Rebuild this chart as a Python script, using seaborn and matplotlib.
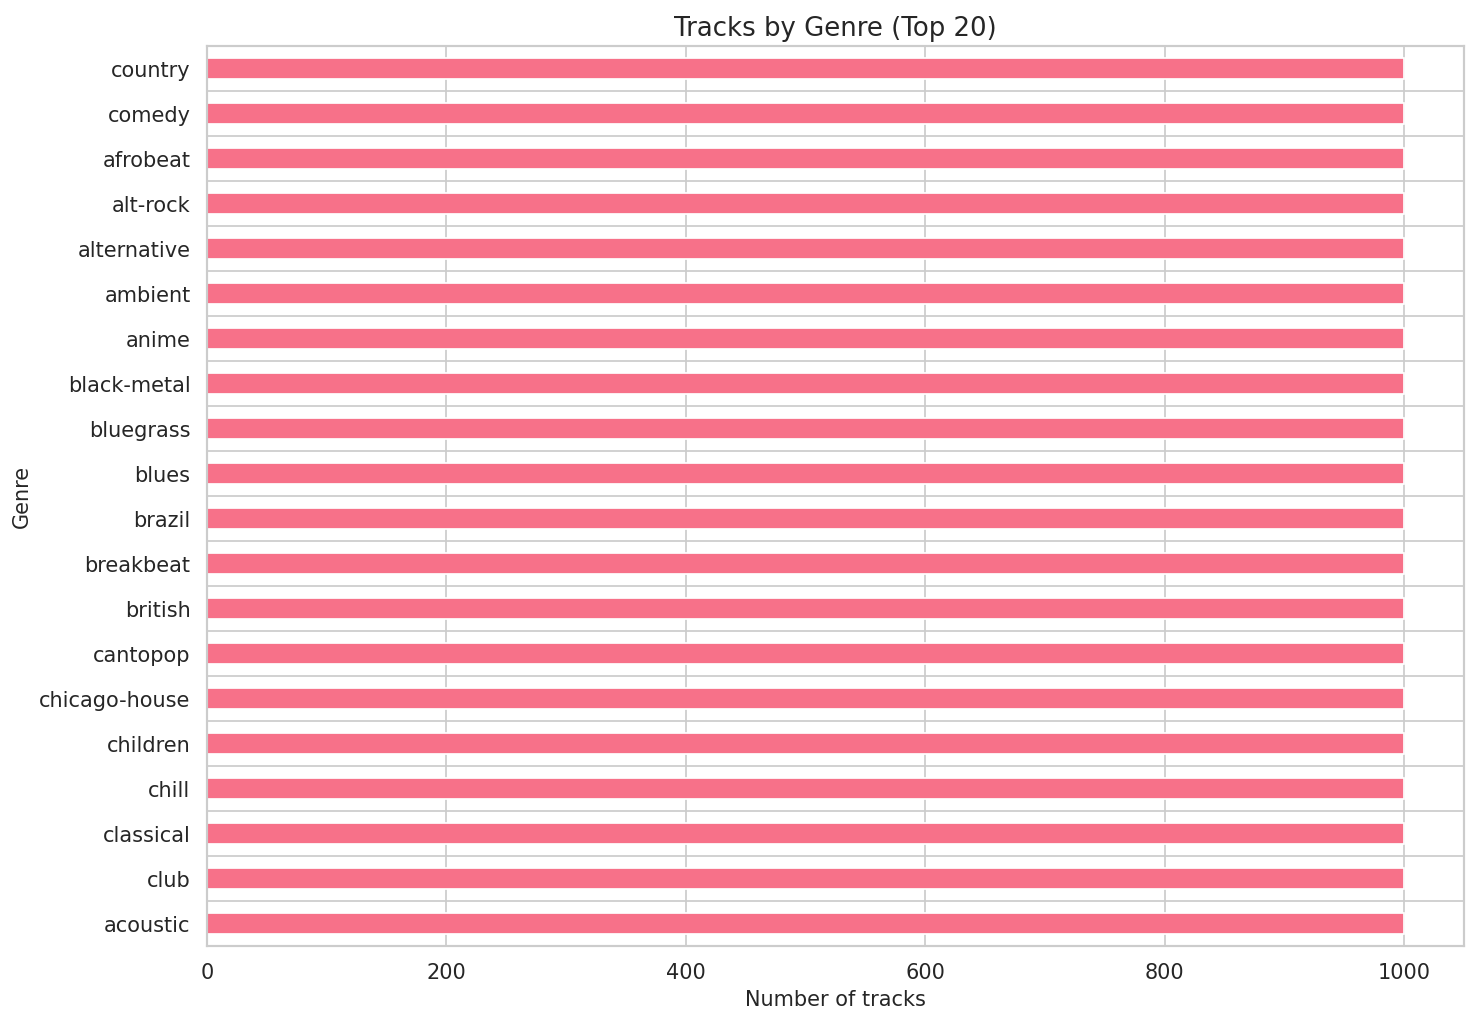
import matplotlib
matplotlib.use("Agg")
import matplotlib.pyplot as plt
import seaborn as sns
import numpy as np
import pandas as pd

sns.set_theme(style="whitegrid")

# genres listed top to bottom as shown
genres = ['country', 'comedy', 'afrobeat', 'alt-rock', 'alternative', 'ambient', 'anime',
          'black-metal', 'bluegrass', 'blues', 'brazil', 'breakbeat', 'british', 'cantopop',
          'chicago-house', 'children', 'chill', 'classical', 'club', 'acoustic']
counts = [1000] * 20

df = pd.DataFrame({'genre': genres, 'count': counts})
color = sns.color_palette("husl", 8)[0]

fig, ax = plt.subplots(figsize=(11.83, 8.21), dpi=125)
sns.barplot(data=df, y='genre', x='count', color=color, width=0.45, saturation=1, ax=ax)

ax.set_xlim(0, 1050)
ax.set_ylim(len(genres) - 0.5, -0.5)
ax.set_yticks(np.arange(len(genres)) + 0.5, minor=True)
ax.grid(False, axis='y', which='major')
ax.grid(True, axis='y', which='minor', color='#cccccc')
ax.tick_params(axis='y', which='minor', length=0)
ax.set_axisbelow(True)

ax.set_title('Tracks by Genre (Top 20)', fontsize=15)
ax.set_xlabel('Number of tracks', fontsize=12)
ax.set_ylabel('Genre', fontsize=12)
ax.tick_params(labelsize=12)

fig.subplots_adjust(left=0.14, right=0.99, top=0.955, bottom=0.078)
fig.savefig('out.png')
